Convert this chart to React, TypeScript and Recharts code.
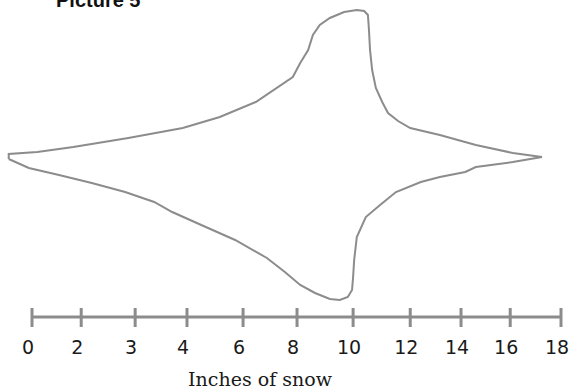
import React from 'react';
import { ScatterChart, Scatter, XAxis, YAxis, ReferenceLine } from 'recharts';

// ruler positions (in ruler units, 0..10) and what is printed under them
const tickPositions = [0, 0.93, 1.95, 2.93, 3.99, 5.01, 6.07, 7.15, 8.11, 9.04, 10];
const tickLabels = ['0', '2', '3', '4', '6', '8', '10', '12', '14', '16', '18'];

// upper edge of the blob, left to right
const upperX = [-0.44, -0.44, 0.1, 0.78, 1.82, 2.85, 3.55, 4.23, 4.93, 5.07, 5.22, 5.31, 5.44, 5.63, 5.9, 6.14, 6.28, 6.35, 6.37, 6.39, 6.43, 6.5, 6.62, 6.73, 6.92, 7.15, 7.71, 8.39, 9.09, 9.64];
const upperY = [-2, 3, 5, 10, 19, 29, 40, 55, 80, 94, 107, 122, 132, 139, 145, 147, 146, 142, 127, 107, 87, 69, 55, 44, 36, 29, 22, 12, 4, 0];

// lower edge, right to left
const lowerX = [9.09, 8.39, 8.19, 7.71, 7.35, 6.88, 6.58, 6.31, 6.14, 6.09, 6.07, 6.05, 5.97, 5.82, 5.63, 5.35, 5.07, 4.78, 4.44, 3.84, 3.2, 2.65, 2.31, 1.76, 1.13, 0.51, -0.06, -0.44];
const lowerY = [-5, -10, -15, -20, -25, -35, -48, -60, -80, -103, -120, -133, -140, -143, -142, -136, -128, -115, -101, -83, -68, -55, -45, -35, -26, -18, -11, -2];

const outline = [
  ...upperX.map((x, i) => ({ x, y: upperY[i] })),
  ...lowerX.map((x, i) => ({ x, y: lowerY[i] })),
];

const GRAY = '#8c8c8c';

const RulerTick = ({ x, y, payload }: any) => {
  const idx = tickPositions.indexOf(payload.value);
  return (
    <g>
      <line x1={x} x2={x} y1={y - 9} y2={y + 10} stroke={GRAY} strokeWidth={3} />
      <text
        x={x - 4}
        y={y + 37}
        textAnchor="middle"
        fontFamily="'DejaVu Sans', sans-serif"
        fontSize={19}
        fill="#1a1a1a"
      >
        {tickLabels[idx]}
      </text>
    </g>
  );
};

export default function App() {
  return (
    <div style={{ position: 'absolute', left: 0, top: 0, width: 571, height: 390, background: '#fff', overflow: 'hidden' }}>
      <div
        style={{
          position: 'absolute',
          left: 56,
          top: -10,
          fontFamily: "'Liberation Sans', Arial, sans-serif",
          fontWeight: 'bold',
          fontSize: 20,
          lineHeight: '20px',
          color: '#111',
          whiteSpace: 'nowrap',
        }}
      >
        Picture 5
      </div>
      <ScatterChart width={571} height={390} margin={{ top: 0, right: 10, bottom: 0, left: 0 }}>
        <XAxis
          type="number"
          dataKey="x"
          domain={[-0.605, 10]}
          ticks={tickPositions}
          interval={0}
          height={73}
          axisLine={false}
          tickLine={false}
          tickSize={0}
          tickMargin={0}
          tick={<RulerTick />}
        />
        <YAxis type="number" dataKey="y" domain={[-160, 157]} hide width={0} />
        <ReferenceLine
          segment={[{ x: 0, y: -160 }, { x: 10, y: -160 }]}
          stroke={GRAY}
          strokeWidth={3}
        />
        <Scatter
          data={outline}
          line={{ stroke: GRAY, strokeWidth: 2 }}
          lineJointType="linear"
          shape={() => <g />}
          isAnimationActive={false}
        />
      </ScatterChart>
      <div
        style={{
          position: 'absolute',
          left: 160,
          width: 200,
          top: 369,
          textAlign: 'center',
          fontFamily: "'DejaVu Serif', serif",
          fontSize: 19,
          lineHeight: '20px',
          color: '#1a1a1a',
          whiteSpace: 'nowrap',
        }}
      >
        Inches of snow
      </div>
    </div>
  );
}
